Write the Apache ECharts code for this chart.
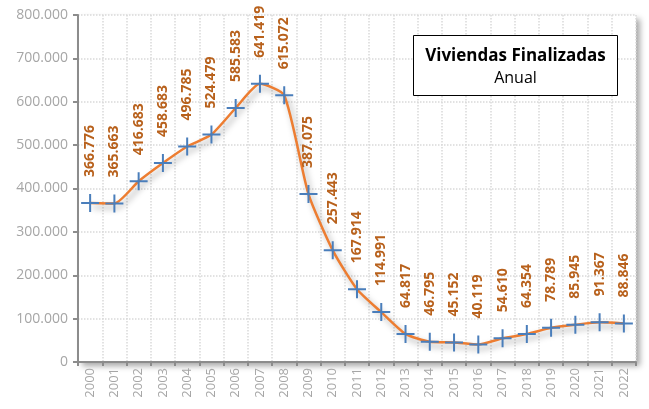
<!DOCTYPE html>
<html>
<head>
<meta charset="utf-8">
<script src="https://cdn.jsdelivr.net/npm/echarts@6/dist/echarts.min.js"></script>
<style>
  html, body { margin: 0; padding: 0; background: #fff; }
  #myChart { width: 649px; height: 409px; }
</style>
</head>
<body>
<div id="myChart"></div>
<script>
const years = ['2000', '2001', '2002', '2003', '2004', '2005', '2006', '2007', '2008', '2009', '2010', '2011',
  '2012', '2013', '2014', '2015', '2016', '2017', '2018', '2019', '2020', '2021', '2022'];
const viviendas = [366776, 365663, 416683, 458683, 496785, 524479, 585583, 641419, 615072, 387075, 257443, 167914,
  114991, 64817, 46795, 45152, 40119, 54610, 64354, 78789, 85945, 91367, 88846];
const titleLines = ['Viviendas Finalizadas', 'Anual'];

// formato con punto de miles
function fmt(v) {
  return String(v).replace(/\B(?=(\d{3})+(?!\d))/g, '.');
}

const font = '"Open Sans", "Liberation Sans", sans-serif';
let myChart = echarts.init(document.getElementById('myChart'));
myChart.setOption({
  backgroundColor: '#fff',
  animation: false,
  grid: {
    left: 78,
    right: 13,
    top: 15,
    bottom: 47,
    show: true,
    backgroundColor: '#fff',
    borderWidth: 0,
    shadowColor: 'rgba(0,0,0,0.35)',
    shadowBlur: 6,
    shadowOffsetX: 4,
    shadowOffsetY: 4
  },
  xAxis: {
    type: 'category',
    data: years,
    boundaryGap: true,
    axisLine: { lineStyle: { color: '#8c8c8c', width: 2 } },
    axisTick: { show: true, length: 4, lineStyle: { color: '#8c8c8c', width: 2 } },
    axisLabel: { rotate: 90, color: '#a6a6a6', fontSize: 13, fontFamily: font, margin: 6 },
    splitLine: { show: true, lineStyle: { color: '#d9d9d9', type: 'dotted', width: 1.5 } }
  },
  yAxis: {
    type: 'value',
    min: 0,
    max: 800000,
    interval: 100000,
    axisLine: { show: true, lineStyle: { color: '#8c8c8c', width: 2 } },
    axisTick: { show: true, length: 5, lineStyle: { color: '#8c8c8c', width: 2 } },
    axisLabel: { color: '#a6a6a6', fontSize: 14, fontFamily: font, margin: 10, formatter: fmt },
    splitLine: { show: true, lineStyle: { color: '#d9d9d9', type: 'dotted', width: 1.5 } }
  },
  series: [{
    type: 'line',
    data: viviendas,
    smooth: 0.2,
    symbol: 'path://M0,8H18V10H0Z M8,0H10V18H8Z',
    symbolSize: 18,
    itemStyle: { color: '#4a7ebb' },
    lineStyle: {
      color: '#ed7d31',
      width: 2.5,
      shadowColor: 'rgba(0,0,0,0.35)',
      shadowBlur: 6,
      shadowOffsetX: 3,
      shadowOffsetY: 4
    },
    label: {
      show: true,
      position: 'top',
      distance: 17,
      rotate: 90,
      align: 'left',
      verticalAlign: 'middle',
      color: '#b8611c',
      fontWeight: 'bold',
      fontSize: 14,
      fontFamily: font,
      formatter: p => fmt(p.value)
    },
    z: 3
  }],
  graphic: [{
    type: 'group',
    left: 413,
    top: 35,
    z: 100,
    children: [{
      type: 'rect',
      z: 100,
      shape: { x: 0, y: 0, width: 204, height: 60 },
      style: { fill: '#fff', stroke: '#000', lineWidth: 1 }
    }, {
      type: 'text',
      z: 101,
      x: 102,
      y: 21,
      style: { text: titleLines[0], fill: '#000', font: 'bold 17px ' + font, align: 'center', verticalAlign: 'middle' }
    }, {
      type: 'text',
      z: 101,
      x: 102,
      y: 43,
      style: { text: titleLines[1], fill: '#000', font: '16px ' + font, align: 'center', verticalAlign: 'middle' }
    }]
  }]
});
</script>
</body>
</html>
